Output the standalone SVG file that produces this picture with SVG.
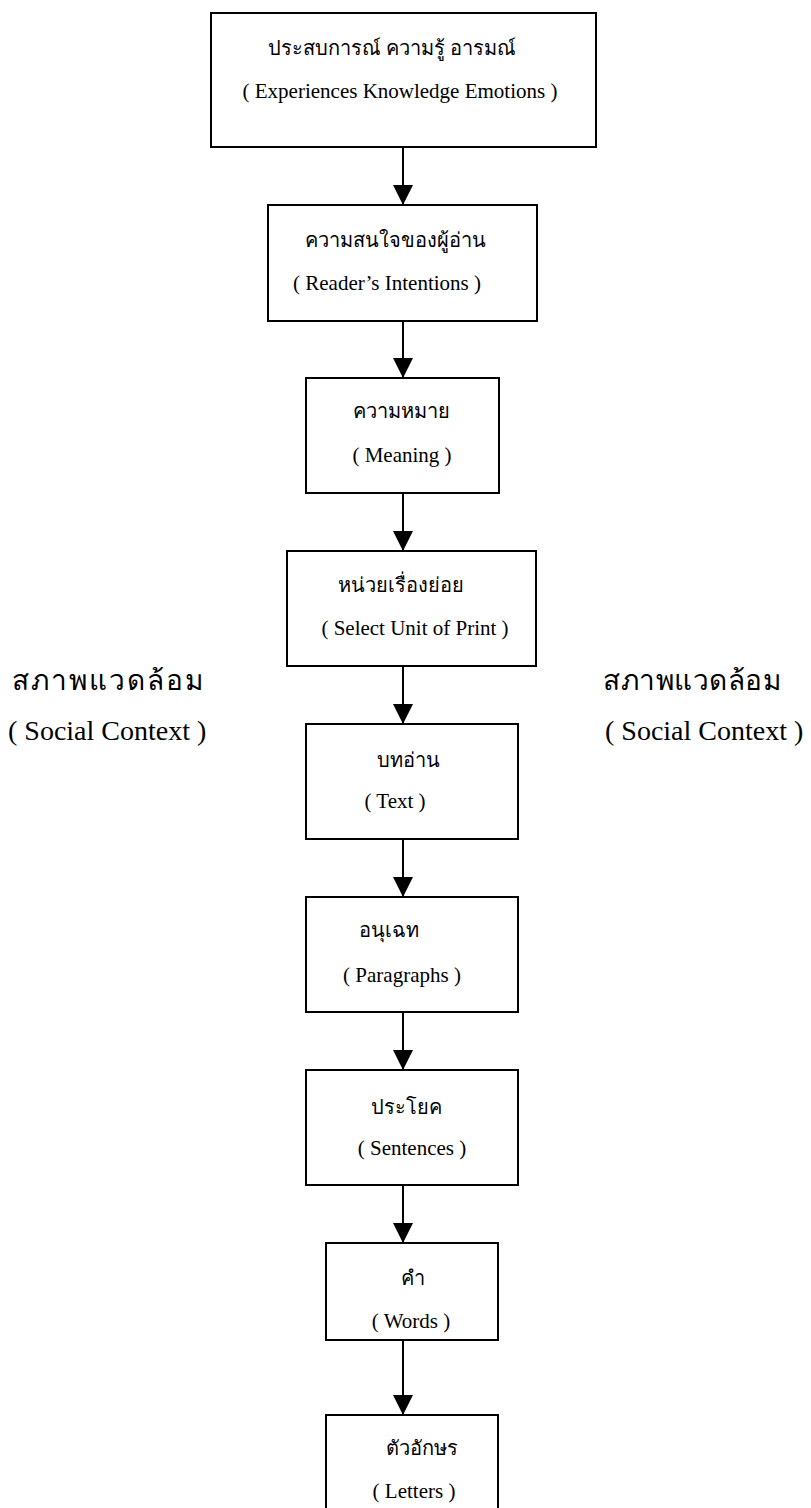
<svg xmlns="http://www.w3.org/2000/svg" width="811" height="1508" viewBox="0 0 811 1508">
<style>
.box{fill:#fff;stroke:#000;stroke-width:2}
.th{font-family:"Liberation Serif","Noto Sans",serif;font-size:20px;fill:#000;text-anchor:middle}
.en{font-family:"Liberation Serif",serif;font-size:21px;fill:#000;text-anchor:middle}
.ctx-th{font-family:"Liberation Serif","Noto Sans",serif;font-size:28px;fill:#000}
.ctx-en{font-family:"Liberation Serif",serif;font-size:28px;fill:#000}
.conn{stroke:#000;stroke-width:2;fill:none}
</style>
<defs>
<marker id="ah" markerUnits="userSpaceOnUse" markerWidth="20" markerHeight="20" refX="20" refY="10" orient="auto">
<path d="M0,0 L20,10 L0,20 Z" fill="#000"/>
</marker>
</defs>
<rect width="811" height="1508" fill="#fff"/>
<g id="connectors">
<line class="conn" x1="403" y1="147" x2="403" y2="205" marker-end="url(#ah)"/>
<line class="conn" x1="403" y1="321" x2="403" y2="378" marker-end="url(#ah)"/>
<line class="conn" x1="403" y1="493" x2="403" y2="551" marker-end="url(#ah)"/>
<line class="conn" x1="403" y1="666" x2="403" y2="724" marker-end="url(#ah)"/>
<line class="conn" x1="403" y1="839" x2="403" y2="897" marker-end="url(#ah)"/>
<line class="conn" x1="403" y1="1012" x2="403" y2="1070" marker-end="url(#ah)"/>
<line class="conn" x1="403" y1="1185" x2="403" y2="1243" marker-end="url(#ah)"/>
<line class="conn" x1="403" y1="1340" x2="403" y2="1415" marker-end="url(#ah)"/>
</g>
<g id="n1"><rect class="box" x="211" y="13" width="385" height="134"/>
<text class="th" x="392" y="55">ประสบการณ์ ความรู้ อารมณ์</text>
<text class="en" x="400" y="98">( Experiences Knowledge Emotions )</text></g>
<g id="n2"><rect class="box" x="268" y="205" width="269" height="116"/>
<text class="th" x="395" y="247">ความสนใจของผู้อ่าน</text>
<text class="en" x="387" y="290">( Reader’s Intentions )</text></g>
<g id="n3"><rect class="box" x="306" y="378" width="193" height="115"/>
<text class="th" x="401" y="418">ความหมาย</text>
<text class="en" x="402" y="462">( Meaning )</text></g>
<g id="n4"><rect class="box" x="287" y="551" width="249" height="115"/>
<text class="th" x="401" y="592">หน่วยเรื่องย่อย</text>
<text class="en" x="415" y="635">( Select Unit of Print )</text></g>
<g id="n5"><rect class="box" x="306" y="724" width="212" height="115"/>
<text class="th" x="408" y="767">บทอ่าน</text>
<text class="en" x="395" y="808">( Text )</text></g>
<g id="n6"><rect class="box" x="306" y="897" width="212" height="115"/>
<text class="th" x="389" y="937">อนุเฉท</text>
<text class="en" x="402" y="982">( Paragraphs )</text></g>
<g id="n7"><rect class="box" x="306" y="1070" width="212" height="115"/>
<text class="th" x="406" y="1114">ประโยค</text>
<text class="en" x="412" y="1155">( Sentences )</text></g>
<g id="n8"><rect class="box" x="326" y="1243" width="172" height="97"/>
<text class="th" x="413" y="1285">คำ</text>
<text class="en" x="411" y="1328">( Words )</text></g>
<g id="n9"><rect class="box" x="326" y="1415" width="172" height="110"/>
<text class="th" x="422" y="1455">ตัวอักษร</text>
<text class="en" x="414" y="1498">( Letters )</text></g>
<g id="ctx-left">
<text class="ctx-th" x="12" y="690" letter-spacing="2">สภาพแวดล้อม</text>
<text class="ctx-en" x="8" y="740">( Social Context )</text></g>
<g id="ctx-right">
<text class="ctx-th" x="603" y="690" letter-spacing="0.5">สภาพแวดล้อม</text>
<text class="ctx-en" x="605" y="740">( Social Context )</text></g>
</svg>
